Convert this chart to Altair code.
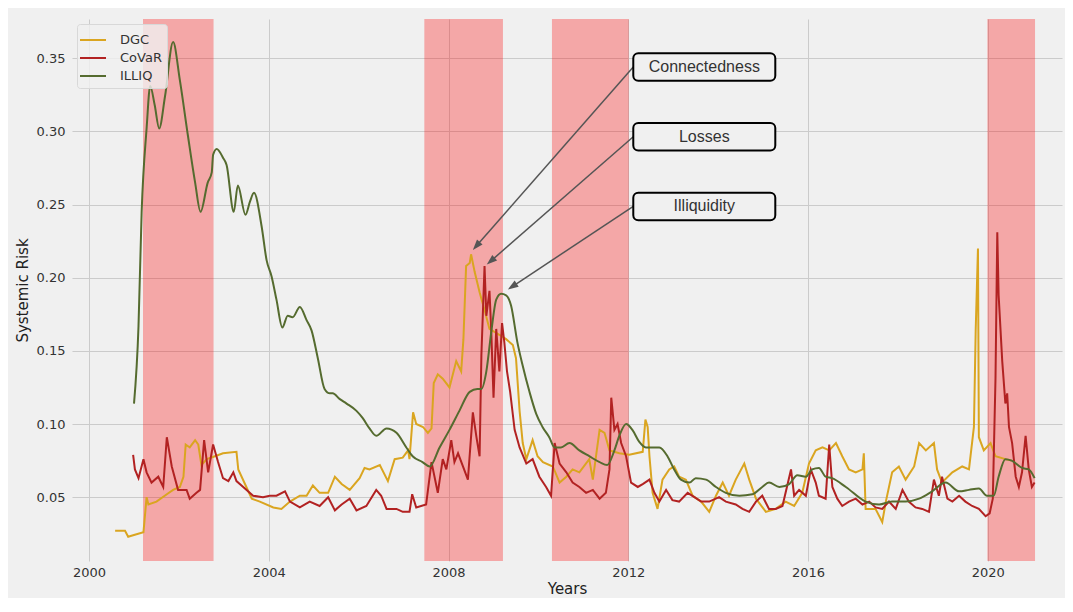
import math
import altair as alt
import pandas as pd

# ---------------- data ----------------
illiq_year = [2001.00, 2001.10, 2001.17, 2001.28, 2001.36, 2001.46, 2001.56, 2001.69, 2001.87, 2002.02,
              2002.20, 2002.36, 2002.48, 2002.64, 2002.73, 2002.76, 2002.84, 2002.98, 2003.06, 2003.22,
              2003.31, 2003.48, 2003.58, 2003.67, 2003.84, 2003.95, 2004.06, 2004.17, 2004.30, 2004.42,
              2004.53, 2004.69, 2004.84, 2004.95, 2005.09, 2005.24, 2005.36, 2005.42, 2005.58, 2005.73,
              2005.95, 2006.09, 2006.24, 2006.39, 2006.62, 2006.84, 2007.06, 2007.20, 2007.42, 2007.58,
              2007.80, 2008.02, 2008.24, 2008.47, 2008.64, 2008.73, 2008.84, 2008.95, 2009.06, 2009.17,
              2009.28, 2009.39, 2009.53, 2009.64, 2009.80, 2009.95, 2010.09, 2010.24, 2010.36, 2010.50,
              2010.69, 2010.91, 2011.13, 2011.36, 2011.53, 2011.69, 2011.80, 2011.95, 2012.09, 2012.24,
              2012.39, 2012.69, 2012.87, 2013.02, 2013.17, 2013.36, 2013.50, 2013.73, 2013.95, 2014.17,
              2014.47, 2014.76, 2014.98, 2015.13, 2015.36, 2015.58, 2015.76, 2015.95, 2016.09, 2016.24,
              2016.39, 2016.53, 2016.84, 2017.28, 2017.58, 2017.87, 2018.17, 2018.47, 2018.76, 2019.06,
              2019.36, 2019.58, 2019.80, 2019.98, 2020.13, 2020.24, 2020.39, 2020.53, 2020.76, 2020.91,
              2021.04]
illiq_val = [0.114, 0.167, 0.245, 0.302, 0.331, 0.318, 0.302, 0.324, 0.361, 0.335,
             0.297, 0.265, 0.245, 0.265, 0.272, 0.284, 0.288, 0.282, 0.277, 0.245,
             0.263, 0.243, 0.252, 0.258, 0.235, 0.212, 0.201, 0.185, 0.166, 0.174,
             0.173, 0.180, 0.171, 0.164, 0.145, 0.124, 0.121, 0.121, 0.117, 0.114,
             0.109, 0.104, 0.097, 0.092, 0.097, 0.094, 0.084, 0.078, 0.074, 0.071,
             0.084, 0.096, 0.109, 0.122, 0.124, 0.124, 0.136, 0.163, 0.185, 0.189,
             0.188, 0.181, 0.156, 0.141, 0.122, 0.107, 0.098, 0.091, 0.084, 0.084,
             0.087, 0.082, 0.078, 0.074, 0.072, 0.082, 0.092, 0.100, 0.096, 0.088,
             0.084, 0.084, 0.078, 0.069, 0.062, 0.060, 0.063, 0.062, 0.057, 0.053,
             0.051, 0.052, 0.057, 0.060, 0.057, 0.059, 0.065, 0.064, 0.069, 0.070,
             0.064, 0.063, 0.057, 0.047, 0.045, 0.047, 0.047, 0.049, 0.054, 0.060,
             0.054, 0.055, 0.056, 0.051, 0.051, 0.064, 0.076, 0.075, 0.070, 0.069,
             0.063]

dgc_year = [2000.58, 2000.80, 2000.87, 2000.98, 2001.21, 2001.28, 2001.32, 2001.50, 2001.73, 2001.87,
            2002.02, 2002.10, 2002.15, 2002.24, 2002.36, 2002.43, 2002.50, 2002.62, 2002.80, 2002.98,
            2003.28, 2003.32, 2003.50, 2003.62, 2003.80, 2004.10, 2004.28, 2004.47, 2004.69, 2004.84,
            2004.98, 2005.13, 2005.32, 2005.47, 2005.62, 2005.80, 2006.02, 2006.13, 2006.24, 2006.47,
            2006.65, 2006.80, 2006.98, 2007.10, 2007.13, 2007.21, 2007.28, 2007.43, 2007.54, 2007.62,
            2007.67, 2007.76, 2007.87, 2008.02, 2008.17, 2008.28, 2008.33, 2008.39, 2008.47, 2008.50,
            2008.58, 2008.69, 2008.80, 2008.91, 2009.13, 2009.28, 2009.43, 2009.50, 2009.58, 2009.65,
            2009.73, 2009.87, 2009.98, 2010.10, 2010.32, 2010.47, 2010.62, 2010.76, 2010.91, 2011.13,
            2011.21, 2011.36, 2011.47, 2011.58, 2011.80, 2012.02, 2012.32, 2012.38, 2012.43, 2012.47,
            2012.54, 2012.65, 2012.76, 2012.91, 2013.02, 2013.13, 2013.28, 2013.43, 2013.62, 2013.80,
            2013.95, 2014.10, 2014.24, 2014.39, 2014.58, 2014.69, 2014.84, 2015.06, 2015.28, 2015.50,
            2015.69, 2015.87, 2016.02, 2016.17, 2016.32, 2016.47, 2016.62, 2016.76, 2016.91, 2017.06,
            2017.21, 2017.24, 2017.28, 2017.50, 2017.65, 2017.73, 2017.87, 2018.02, 2018.17, 2018.36,
            2018.47, 2018.62, 2018.80, 2018.87, 2018.98, 2019.21, 2019.43, 2019.58, 2019.69, 2019.73,
            2019.78, 2019.80, 2019.91, 2020.06, 2020.17, 2020.39, 2020.53]
dgc_val = [0.027, 0.027, 0.023, 0.024, 0.026, 0.050, 0.045, 0.047, 0.052, 0.055,
           0.057, 0.064, 0.086, 0.084, 0.089, 0.086, 0.072, 0.076, 0.078, 0.080,
           0.081, 0.069, 0.057, 0.049, 0.047, 0.043, 0.042, 0.047, 0.051, 0.051,
           0.058, 0.053, 0.053, 0.064, 0.059, 0.055, 0.063, 0.070, 0.069, 0.072,
           0.061, 0.076, 0.077, 0.082, 0.076, 0.108, 0.100, 0.098, 0.094, 0.097,
           0.128, 0.134, 0.131, 0.125, 0.143, 0.136, 0.158, 0.208, 0.210, 0.216,
           0.204, 0.190, 0.178, 0.165, 0.161, 0.158, 0.154, 0.145, 0.109, 0.087,
           0.076, 0.089, 0.078, 0.074, 0.071, 0.060, 0.064, 0.069, 0.067, 0.076,
           0.062, 0.096, 0.094, 0.082, 0.080, 0.079, 0.081, 0.103, 0.098, 0.078,
           0.053, 0.042, 0.062, 0.069, 0.071, 0.064, 0.062, 0.051, 0.047, 0.040,
           0.051, 0.060, 0.051, 0.062, 0.073, 0.062, 0.049, 0.040, 0.042, 0.047,
           0.044, 0.053, 0.073, 0.082, 0.084, 0.082, 0.087, 0.078, 0.069, 0.067,
           0.069, 0.080, 0.042, 0.042, 0.033, 0.047, 0.067, 0.071, 0.062, 0.071,
           0.087, 0.082, 0.087, 0.069, 0.060, 0.067, 0.071, 0.069, 0.098, 0.165,
           0.220, 0.091, 0.082, 0.087, 0.078, 0.076, 0.075]

covar_year = [2000.98, 2001.02, 2001.10, 2001.21, 2001.28, 2001.39, 2001.54, 2001.65, 2001.73, 2001.84,
              2001.98, 2002.17, 2002.24, 2002.39, 2002.47, 2002.56, 2002.65, 2002.76, 2002.87, 2002.98,
              2003.10, 2003.21, 2003.28, 2003.43, 2003.65, 2003.87, 2004.02, 2004.17, 2004.36, 2004.47,
              2004.69, 2004.91, 2005.13, 2005.32, 2005.47, 2005.62, 2005.80, 2005.95, 2006.17, 2006.39,
              2006.50, 2006.62, 2006.84, 2006.98, 2007.13, 2007.19, 2007.28, 2007.50, 2007.62, 2007.76,
              2007.87, 2007.95, 2008.06, 2008.13, 2008.21, 2008.32, 2008.43, 2008.54, 2008.62, 2008.69,
              2008.73, 2008.80, 2008.84, 2008.91, 2008.95, 2009.00, 2009.06, 2009.13, 2009.19, 2009.24,
              2009.30, 2009.37, 2009.47, 2009.58, 2009.73, 2009.87, 2010.02, 2010.17, 2010.28, 2010.36,
              2010.47, 2010.62, 2010.76, 2010.91, 2011.06, 2011.21, 2011.36, 2011.50, 2011.58, 2011.62,
              2011.69, 2011.76, 2011.84, 2011.95, 2012.06, 2012.21, 2012.32, 2012.47, 2012.58, 2012.69,
              2012.84, 2012.98, 2013.13, 2013.32, 2013.47, 2013.62, 2013.80, 2014.02, 2014.17, 2014.39,
              2014.54, 2014.69, 2014.84, 2014.98, 2015.13, 2015.28, 2015.43, 2015.62, 2015.69, 2015.80,
              2015.95, 2016.06, 2016.17, 2016.24, 2016.39, 2016.47, 2016.54, 2016.65, 2016.76, 2016.91,
              2017.06, 2017.21, 2017.36, 2017.50, 2017.65, 2017.80, 2017.95, 2018.10, 2018.24, 2018.39,
              2018.54, 2018.69, 2018.80, 2018.91, 2018.98, 2019.10, 2019.21, 2019.36, 2019.50, 2019.65,
              2019.80, 2019.95, 2020.04, 2020.11, 2020.17, 2020.21, 2020.24, 2020.32, 2020.39, 2020.43,
              2020.47, 2020.54, 2020.62, 2020.69, 2020.76, 2020.84, 2020.91, 2020.98, 2021.04]
covar_val = [0.079, 0.069, 0.063, 0.076, 0.067, 0.060, 0.064, 0.057, 0.091, 0.071,
             0.055, 0.055, 0.049, 0.053, 0.055, 0.089, 0.067, 0.086, 0.074, 0.063,
             0.061, 0.067, 0.061, 0.057, 0.051, 0.050, 0.051, 0.051, 0.054, 0.047,
             0.043, 0.047, 0.044, 0.050, 0.041, 0.045, 0.049, 0.041, 0.044, 0.055,
             0.051, 0.042, 0.042, 0.040, 0.040, 0.052, 0.043, 0.045, 0.074, 0.053,
             0.076, 0.069, 0.089, 0.074, 0.080, 0.071, 0.062, 0.108, 0.091, 0.078,
             0.147, 0.208, 0.174, 0.191, 0.163, 0.118, 0.165, 0.136, 0.169, 0.156,
             0.136, 0.122, 0.096, 0.084, 0.073, 0.076, 0.064, 0.057, 0.051, 0.087,
             0.073, 0.067, 0.060, 0.057, 0.053, 0.055, 0.049, 0.053, 0.069, 0.118,
             0.096, 0.100, 0.087, 0.078, 0.060, 0.057, 0.059, 0.062, 0.053, 0.047,
             0.055, 0.048, 0.047, 0.053, 0.050, 0.047, 0.047, 0.050, 0.047, 0.045,
             0.042, 0.040, 0.047, 0.051, 0.042, 0.042, 0.044, 0.069, 0.051, 0.055,
             0.051, 0.069, 0.060, 0.051, 0.049, 0.086, 0.057, 0.049, 0.044, 0.047,
             0.049, 0.045, 0.047, 0.043, 0.042, 0.047, 0.042, 0.055, 0.047, 0.043,
             0.042, 0.040, 0.062, 0.051, 0.064, 0.049, 0.047, 0.051, 0.047, 0.044,
             0.042, 0.037, 0.039, 0.049, 0.131, 0.231, 0.188, 0.143, 0.114, 0.121,
             0.098, 0.087, 0.064, 0.057, 0.067, 0.092, 0.069, 0.057, 0.060]

series_names = ["DGC", "CoVaR", "ILLIQ"]
series_colors = ["#DAA520", "#B22222", "#556B2F"]
series_interp = ["linear", "linear", "monotone"]

# shaded crisis periods
rec_start = [2001.20, 2007.46, 2010.30, 2019.99]
rec_end = [2002.77, 2009.21, 2012.01, 2021.05]

# annotations
ann_label = ["Connectedness", "Losses", "Illiquidity"]
ann_text_year = [2013.69, 2013.69, 2013.69]
ann_text_val = [0.344, 0.2963, 0.2487]
ann_box_left = [2012.11, 2012.11, 2012.11]
ann_box_right = [2015.27, 2015.27, 2015.27]
ann_box_half = [0.0094, 0.0094, 0.0094]
ann_tip_year = [2008.54, 2008.85, 2009.32]
ann_tip_val = [0.219, 0.209, 0.192]

x_ticks = [2000, 2004, 2008, 2012, 2016, 2020]
y_ticks = [0.05, 0.10, 0.15, 0.20, 0.25, 0.30, 0.35]

# ---------------- layout ----------------
X0, X1 = 1999.62, 2021.65
Y0, Y1 = 0.0064, 0.3768
W, H = 990, 542
HEAD_SIZE = 110

kx = W / (X1 - X0)
ky = H / (Y1 - Y0)

# ---------------- frames ----------------
def series_frame(name, xs, ys):
    return pd.DataFrame({"year": xs, "value": ys, "series": name})

frames = {
    "DGC": series_frame("DGC", dgc_year, dgc_val),
    "CoVaR": series_frame("CoVaR", covar_year, covar_val),
    "ILLIQ": series_frame("ILLIQ", illiq_year, illiq_val),
}

rec_df = pd.DataFrame({"year": rec_start, "year2": rec_end})

box_df = pd.DataFrame({
    "year": ann_box_left,
    "year2": ann_box_right,
    "value": [v - h for v, h in zip(ann_text_val, ann_box_half)],
    "value2": [v + h for v, h in zip(ann_text_val, ann_box_half)],
})
text_df = pd.DataFrame({"year": ann_text_year, "value": ann_text_val, "label": ann_label})

heads = []
shafts = []
off = math.sqrt(HEAD_SIZE) / 2
for sx, sy, tx, ty in zip(ann_box_left, ann_text_val, ann_tip_year, ann_tip_val):
    dx = (tx - sx) * kx
    dy = -(ty - sy) * ky
    n = math.hypot(dx, dy)
    ux, uy = dx / n, dy / n
    cx = tx - off * ux / kx
    cy = ty + off * uy / ky
    ang = math.degrees(math.atan2(dx, -dy)) % 360
    heads.append({"year": cx, "value": cy, "angle": ang})
    shafts.append({"year": sx, "value": sy, "year2": cx, "value2": cy})
head_df = pd.DataFrame(heads)
shaft_df = pd.DataFrame(shafts)

# ---------------- encodings ----------------
xscale = alt.Scale(domain=[X0, X1], nice=False, zero=False)
yscale = alt.Scale(domain=[Y0, Y1], nice=False, zero=False)
x_axis = alt.Axis(values=x_ticks, format="d", title="Years", labelPadding=5, titlePadding=2)
y_axis = alt.Axis(values=y_ticks, format=".2f", title="Systemic Risk", labelPadding=7, titlePadding=6)


def X(field="year"):
    return alt.X(f"{field}:Q", scale=xscale, axis=x_axis)


def Y(field="value"):
    return alt.Y(f"{field}:Q", scale=yscale, axis=y_axis)


color_scale = alt.Scale(domain=series_names, range=series_colors)
legend = alt.Legend(
    title=None, orient="none", legendX=5, legendY=5, symbolType="M-1.3,0L1.3,0",
    symbolSize=400, symbolStrokeWidth=2, labelFont="DejaVu Sans", labelFontSize=13,
    labelColor="#333333", labelAlign="left", labelOffset=16, rowPadding=0, padding=5,
    fillColor="rgba(240,240,240,0.8)", strokeColor="#d8d8d8", cornerRadius=3,
)

shade = alt.Chart(rec_df).mark_rect(color="red", opacity=0.3).encode(x=X(), x2="year2:Q")

line_layers = []
for name, interp in zip(series_names, series_interp):
    line_layers.append(
        alt.Chart(frames[name]).mark_line(strokeWidth=2, interpolate=interp).encode(
            x=X(), y=Y(),
            color=alt.Color("series:N", scale=color_scale, legend=legend),
        )
    )

shaft = alt.Chart(shaft_df).mark_rule(color="#555555", strokeWidth=1.5).encode(
    x=X(), y=Y(), x2="year2:Q", y2="value2:Q")
head = alt.Chart(head_df).mark_point(
    shape="M0,-1L-0.7,1L0.7,1Z", filled=True, size=HEAD_SIZE, color="#555555", opacity=1
).encode(x=X(), y=Y(), angle=alt.Angle("angle:Q", scale=None))
box = alt.Chart(box_df).mark_rect(
    fill="#f0f0f0", stroke="black", strokeWidth=2, cornerRadius=5
).encode(x=X(), x2="year2:Q", y=Y(), y2="value2:Q")
text = alt.Chart(text_df).mark_text(
    font="Liberation Sans", fontSize=16, color="#333333", align="center", baseline="middle"
).encode(x=X(), y=Y(), text="label:N")

chart = alt.layer(shade, *line_layers, shaft, head, box, text).properties(
    width=W, height=H,
    autosize=alt.AutoSizeParams(type="none"),
    padding={"left": 64, "top": 11, "right": 3, "bottom": 37},
    background="#f0f0f0",
).configure_view(stroke=None).configure_axis(
    grid=True, gridColor="#cbcbcb", gridWidth=1, domain=False, ticks=False,
    labelFont="DejaVu Sans", labelFontSize=13, labelColor="#333333",
    titleFont="DejaVu Sans", titleFontSize=15, titleColor="#222222", titleFontWeight="normal",
)

chart.save("out.html", embed_options={"renderer": "svg", "actions": False})
